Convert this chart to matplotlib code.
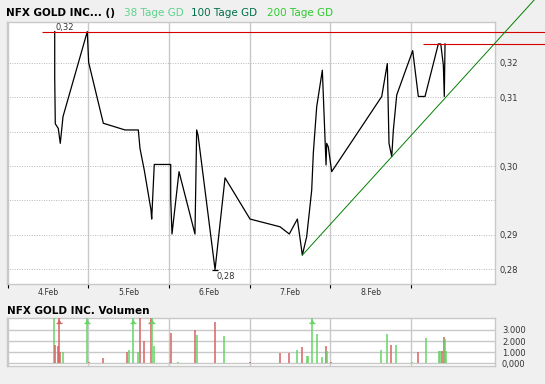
import matplotlib
matplotlib.use("Agg")
import matplotlib.pyplot as plt
import numpy as np

# ---------------- data ----------------
# time in trading-day units from start of 4.Feb (axis day 0)
price_t = [0.581, 0.581, 0.588, 0.625, 0.650, 0.684, 0.985, 1.002, 1.184, 1.453,
           1.618, 1.639, 1.692, 1.775, 1.784, 1.816, 2.020, 2.020, 2.036, 2.123,
           2.321, 2.342, 2.359, 2.570, 2.694, 3.004, 3.376, 3.491, 3.591, 3.653,
           3.707, 3.769, 3.789, 3.831, 3.901, 3.947, 3.955, 3.975, 4.017, 4.638,
           4.707, 4.728, 4.762, 4.782, 4.824, 5.022, 5.092, 5.175, 5.340, 5.370,
           5.402, 5.414, 5.423]
price_v = [0.3261, 0.3173, 0.3082, 0.3073, 0.3044, 0.3096, 0.3261, 0.3201, 0.3083, 0.3070,
           0.3070, 0.3034, 0.2992, 0.2915, 0.2897, 0.3003, 0.3003, 0.2937, 0.2868, 0.2989,
           0.2868, 0.3070, 0.3060, 0.2799, 0.2977, 0.2897, 0.2882, 0.2868, 0.2897, 0.2827,
           0.2863, 0.2953, 0.3025, 0.3115, 0.3186, 0.3002, 0.3044, 0.3037, 0.2989, 0.3135,
           0.3199, 0.3044, 0.3018, 0.3070, 0.3138, 0.3224, 0.3135, 0.3135, 0.3237, 0.3237,
           0.3196, 0.3135, 0.3237]

vol_t = [0.576, 0.590, 0.625, 0.638, 0.650, 0.687, 0.985, 1.010, 1.184, 1.482,
         1.506, 1.556, 1.614, 1.643, 1.692, 1.779, 1.791, 1.816, 2.015, 2.027,
         2.114, 2.325, 2.350, 2.573, 2.685, 3.007, 3.380, 3.491, 3.591, 3.653,
         3.715, 3.727, 3.777, 3.839, 3.901, 3.951, 3.963, 4.012, 4.633, 4.707,
         4.757, 4.819, 5.017, 5.092, 5.184, 5.352, 5.365, 5.389, 5.414, 5.426,
         5.439]
vol_v = [4050, 1700, 1600, 6000, 1000, 1050, 6000, 100, 450, 1000,
         1250, 6000, 1000, 4050, 2000, 6000, 6000, 1550, 100, 2750,
         100, 3000, 2550, 3750, 2450, 100, 900, 900, 1250, 1450,
         700, 650, 6000, 2650, 550, 1550, 1100, 100, 1200, 2650,
         1650, 1650, 100, 1000, 2250, 1100, 1100, 1100, 2350, 2200,
         1100]
vol_up = ['g', 'r', 'r', 'r', 'r', 'g', 'g', 'r', 'r', 'r',
          'g', 'g', 'g', 'r', 'r', 'r', 'g', 'g', 'g', 'r',
          'g', 'r', 'g', 'r', 'g', 'r', 'r', 'r', 'g', 'r',
          'g', 'g', 'g', 'g', 'g', 'r', 'g', 'r', 'g', 'g',
          'r', 'g', 'g', 'r', 'g', 'g', 'g', 'r', 'r', 'g',
          'g']

day_labels = ["4.Feb", "5.Feb", "6.Feb", "7.Feb", "8.Feb"]
price_ticks = [0.28, 0.28667, 0.29333, 0.30, 0.30667, 0.31333, 0.32]
price_tick_labels = ["0,28", "0,29", "", "0,30", "", "0,31", "0,32"]
vol_ticks = [0, 1000, 2000, 3000]
vol_tick_labels = ["0,000", "1.000", "2.000", "3.000"]

max_label = "0,32"
min_label = "0,28"
resist2_value = 0.3237          # second horizontal line (recent high)
trend_anchor_t = [3.653, 4.762]  # two lows of the trend line
trend_anchor_v = [0.2827, 0.3018]

title = "NFX GOLD INC... ()"
legend_items = ["38 Tage GD", "100 Tage GD", "200 Tage GD"]
legend_colors = ["#5fd38d", "#00704a", "#2ecc2e"]
vol_title = "NFX GOLD INC. Volumen"

# ---------------- style ----------------
plt.rcParams['font.family'] = ['DejaVu Sans']
W, H = 545, 384
BG = "#f0f0f0"
GRID = "#c8c8c8"
RED = "#d40000"
GREEN_UP = "#66d466"
RED_DN = "#d96262"
TXT = "#333333"

fig = plt.figure(figsize=(W / 100, H / 100), dpi=100, facecolor=BG)

def fx(px):
    return px / W

def fy(py):
    return 1 - py / H

ax = fig.add_axes([fx(7), fy(284), fx(495) - fx(7), fy(22) - fy(284)])
axv = fig.add_axes([fx(7), fy(366), fx(495) - fx(7), fy(318) - fy(366)])

XMIN, XMAX = -0.011, 6.043
for a in (ax, axv):
    a.set_facecolor("white")
    a.set_xlim(XMIN, XMAX)
    for s in a.spines.values():
        s.set_color(GRID)
        s.set_linewidth(1.0)

# ---------------- price panel ----------------
ax.set_ylim(0.27709, 0.32796)
ax.set_yticks(price_ticks)
ax.set_yticklabels(price_tick_labels)
ax.yaxis.tick_right()
ax.tick_params(axis='y', length=0, pad=3.5, labelsize=6, labelcolor=TXT)
ax.set_xticks(range(6))
ax.set_xticklabels([""] * 6)
ax.set_xticks([i + 0.5 for i in range(5)], minor=True)
ax.set_xticklabels(day_labels, minor=True)
ax.tick_params(axis='x', which='major', length=2.6, width=0.8, color='black', direction='out')
ax.tick_params(axis='x', which='minor', length=0, pad=3.2, labelsize=5.6, labelcolor=TXT)
ax.grid(axis='x', which='major', color=GRID, lw=1.0)
ax.grid(axis='y', color="#b8b8b8", lw=0.7, linestyle=(0, (1, 1.5)))
ax.set_axisbelow(True)

ax.plot(price_t, price_v, color='black', lw=0.9, zorder=3)

# max line & label
vmax = max(price_v)
ax.hlines(vmax, 0.423, 7.0, color=RED, lw=0.8, clip_on=False, zorder=4)
ax.text(0.71, vmax, max_label, ha='center', va='bottom', fontsize=6, color=TXT)
# second resistance line
ax.hlines(resist2_value, 5.150, 7.0, color=RED, lw=0.8, clip_on=False, zorder=4)
# min marker & label
imin = int(np.argmin(price_v))
tmin, vmin = price_t[imin], price_v[imin]
ax.hlines(vmin, tmin - 0.037, tmin + 0.037, color='black', lw=0.9, zorder=4)
ax.annotate(min_label, xy=(tmin, vmin), xytext=(8, -1.5), textcoords='offset points',
            ha='center', va='top', fontsize=6, color=TXT)
# trend line
slope = (trend_anchor_v[1] - trend_anchor_v[0]) / (trend_anchor_t[1] - trend_anchor_t[0])
t_end = 7.0
ax.plot([trend_anchor_t[0], t_end],
        [trend_anchor_v[0], trend_anchor_v[0] + slope * (t_end - trend_anchor_t[0])],
        color="#008000", lw=0.7, clip_on=False, zorder=4)

# ---------------- volume panel ----------------
VTOP = 4073
axv.set_ylim(-224, VTOP)
axv.set_yticks(vol_ticks)
axv.set_yticklabels(vol_tick_labels)
axv.yaxis.tick_right()
axv.tick_params(axis='y', length=0, pad=5, labelsize=6, labelcolor=TXT)
axv.set_xticks(range(6))
axv.set_xticklabels([])
axv.tick_params(axis='x', length=0)
axv.grid(True, color=GRID, lw=1.0)
axv.set_axisbelow(True)

for t, v, c in zip(vol_t, vol_v, vol_up):
    col = GREEN_UP if c == 'g' else RED_DN
    axv.vlines(t, 0, min(v, VTOP), color=col, lw=1.1, zorder=3)
    if v > VTOP:
        axv.plot([t], [VTOP - 250], marker='^', ms=3.6, color=col, mew=0, zorder=4,
                 clip_on=False)
        axv.plot([t], [VTOP - 420], marker='_', ms=4.0, color=col, mew=0.9, zorder=4,
                 clip_on=False)

# ---------------- texts ----------------
fig.text(fx(6), fy(12.9), title, fontsize=7.5, fontweight='bold', color='black',
         va='center', ha='left')
for xpx, txt, col in zip([124, 191, 266.6], legend_items, legend_colors):
    fig.text(fx(xpx), fy(12.9), txt, fontsize=7.5, color=col, va='center', ha='left')
fig.text(fx(7), fy(310.9), vol_title, fontsize=7.5, fontweight='bold', color='black',
         va='center', ha='left')

fig.savefig("out.png", dpi=100, facecolor=BG)
